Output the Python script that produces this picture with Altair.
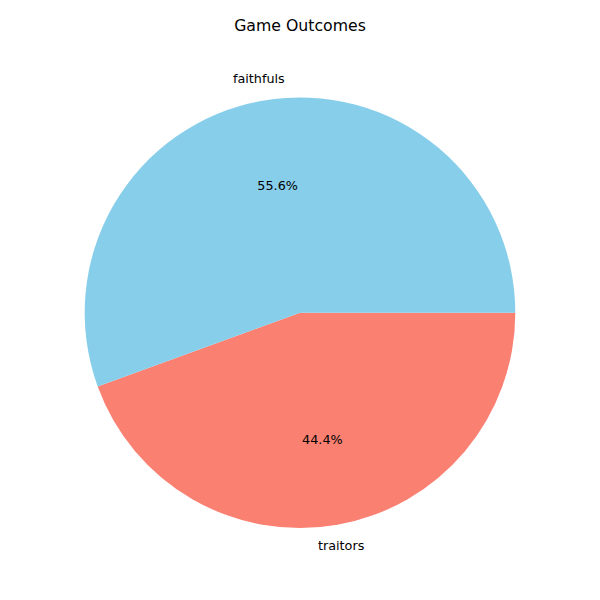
import altair as alt
import pandas as pd

outcomes = ["traitors", "faithfuls"]
counts = [4, 5]
pcts = ["44.4%", "55.6%"]
colors = ["salmon", "skyblue"]

df = pd.DataFrame({"outcome": outcomes, "count": counts, "pct": pcts, "order": [0, 1]})

base = alt.Chart(df).encode(
    theta=alt.Theta("count:Q", stack=True, scale=alt.Scale(range=[1.5708, 7.8540])),
    order=alt.Order("order:Q"),
)

arcs = base.mark_arc(outerRadius=219).encode(
    color=alt.Color("outcome:N", scale=alt.Scale(domain=outcomes, range=colors), legend=None)
)
labels = base.mark_text(radius=241, font="DejaVu Sans", fontSize=13, color="black").encode(
    text="outcome:N"
)
pct_text = base.mark_text(radius=131, font="DejaVu Sans", fontSize=13, color="black").encode(
    text="pct:N"
)

chart = alt.layer(arcs, labels, pct_text).properties(
    width=584,
    height=540,
    title=alt.TitleParams("Game Outcomes", font="DejaVu Sans", fontSize=16,
                          fontWeight="normal", offset=14),
    background="white",
).configure_view(stroke=None)

chart.save("out.html", embed_options={"renderer": "svg", "actions": False})
